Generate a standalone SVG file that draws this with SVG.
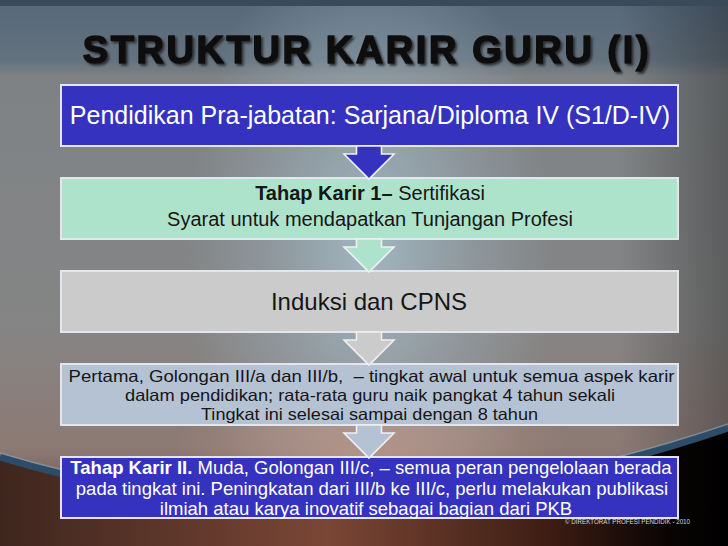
<svg xmlns="http://www.w3.org/2000/svg" width="728" height="546" viewBox="0 0 728 546">
<defs>
<linearGradient id="bgv" x1="0" y1="0" x2="0" y2="1">
<stop offset="0" stop-color="#56687a"/>
<stop offset="0.11" stop-color="#64727e"/>
<stop offset="0.14" stop-color="#7e8285"/>
<stop offset="0.6" stop-color="#858585"/>
<stop offset="0.82" stop-color="#8c7a74"/>
<stop offset="1" stop-color="#5a3a2e"/>
</linearGradient>
<radialGradient id="glow" cx="370" cy="250" r="260" gradientUnits="userSpaceOnUse" gradientTransform="translate(370 250) scale(0.7 1.3) translate(-370 -250)">
<stop offset="0" stop-color="#a9c3d0" stop-opacity="0.8"/>
<stop offset="0.6" stop-color="#a0b4c0" stop-opacity="0.35"/>
<stop offset="1" stop-color="#a0b4c0" stop-opacity="0"/>
</radialGradient>
<radialGradient id="warm" cx="370" cy="470" r="200" gradientUnits="userSpaceOnUse">
<stop offset="0" stop-color="#c09484" stop-opacity="0.75"/>
<stop offset="1" stop-color="#c09484" stop-opacity="0"/>
</radialGradient>
<linearGradient id="floor" x1="0" y1="0" x2="1" y2="0">
<stop offset="0" stop-color="#3e261e"/>
<stop offset="0.45" stop-color="#7a4636"/>
<stop offset="0.75" stop-color="#3e1e14"/>
<stop offset="0.92" stop-color="#080403"/>
<stop offset="1" stop-color="#000"/>
</linearGradient>
<linearGradient id="rightdark" x1="0" y1="0" x2="1" y2="0">
<stop offset="0.85" stop-color="#000" stop-opacity="0"/>
<stop offset="1" stop-color="#000" stop-opacity="0.3"/>
</linearGradient>
<filter id="shadow" x="-5%" y="-20%" width="110%" height="150%">
<feDropShadow dx="2" dy="2" stdDeviation="0.8" flood-color="#2a2a2a" flood-opacity="0.9"/>
</filter>
</defs>
<style>
.box{stroke:#e4e6ee;stroke-width:2}
.blue{fill:#3532bf}
.mint{fill:#aee3cb}
.gray{fill:#cbcbcb}
.slate{fill:#b5c2d3}
.arrow{stroke:#f0f0f4;stroke-width:1.6;stroke-linejoin:miter}
.t{font-family:"Liberation Sans",Arial,sans-serif;text-anchor:middle}
.dark{fill:#161616}
.light{fill:#ffffff}
.b{font-weight:bold}
.title{font-family:"Liberation Sans",Arial,sans-serif;font-weight:bold;font-size:38px;letter-spacing:2.6px;text-anchor:middle;stroke-linejoin:round}
</style>
<!-- background -->
<rect x="0" y="0" width="728" height="546" fill="url(#bgv)"/>
<rect x="0" y="0" width="728" height="546" fill="url(#glow)"/>
<rect x="0" y="0" width="728" height="546" fill="url(#rightdark)"/>
<rect x="0" y="0" width="728" height="6" fill="#3a4a58"/>
<rect x="0" y="380" width="728" height="166" fill="url(#warm)"/>
<path d="M0,457 Q340,560 728,428 L728,546 L0,546 Z" fill="url(#floor)"/>
<path d="M0,457 Q340,560 728,428" fill="none" stroke="#2c4c68" stroke-width="7"/>
<path d="M0,453 Q340,556 728,424" fill="none" stroke="#8aa6bb" stroke-width="1.5" opacity="0.6"/>
<!-- title -->
<text class="title" x="367" y="63" fill="#111" stroke="#111" stroke-width="1.6" filter="url(#shadow)">STRUKTUR KARIR GURU (I)</text>

<g id="node1">
<rect class="box blue" x="61" y="85" width="617" height="61"/>
<text class="t light" x="370" y="124" font-size="25">Pendidikan Pra-jabatan: Sarjana/Diploma IV (S1/D-IV)</text>
</g>
<g id="node2">
<rect class="box mint" x="61" y="178" width="617" height="61"/>
<text class="t dark" x="370" y="200" font-size="20"><tspan class="b">Tahap Karir 1–</tspan> Sertifikasi</text>
<text class="t dark" x="370" y="226" font-size="20">Syarat untuk mendapatkan Tunjangan Profesi</text>
</g>
<g id="node3">
<rect class="box gray" x="61" y="271" width="617" height="61"/>
<text class="t dark" x="369" y="310" font-size="24">Induksi dan CPNS</text>
</g>
<g id="node4">
<rect class="box slate" x="61" y="364" width="617" height="61"/>
<text class="t dark" x="371.5" y="382" font-size="16.5" textLength="606" lengthAdjust="spacingAndGlyphs" xml:space="preserve">Pertama, Golongan III/a dan III/b,  – tingkat awal untuk semua aspek karir</text>
<text class="t dark" x="370" y="401" font-size="16.5" textLength="490" lengthAdjust="spacingAndGlyphs">dalam pendidikan; rata-rata guru naik pangkat 4 tahun sekali</text>
<text class="t dark" x="369.5" y="420" font-size="16.5" textLength="337" lengthAdjust="spacingAndGlyphs">Tingkat ini selesai sampai dengan 8 tahun</text>
</g>
<g id="node5">
<rect class="box blue" x="61" y="457" width="617" height="61"/>
<text class="t light" x="371" y="474" font-size="18.5"><tspan class="b">Tahap Karir II.</tspan> Muda, Golongan III/c, – semua peran pengelolaan berada</text>
<text class="t light" x="372" y="495" font-size="18.5">pada tingkat ini. Peningkatan dari III/b ke III/c, perlu melakukan publikasi</text>
<text class="t light" x="366" y="515" font-size="18.5">ilmiah atau karya inovatif sebagai bagian dari PKB</text>
</g>

<g id="connectors">
<polygon class="arrow blue" points="356.5,146 381.5,146 381.5,154 394,154 369,179 344,154 356.5,154"/>
<polygon class="arrow mint" points="356.5,239 381.5,239 381.5,247 394,247 369,272 344,247 356.5,247"/>
<polygon class="arrow gray" points="356.5,332 381.5,332 381.5,340 394,340 369,365 344,340 356.5,340"/>
<polygon class="arrow slate" points="356.5,425 381.5,425 381.5,433 394,433 369,458 344,433 356.5,433"/>
</g>

<text x="565" y="524" font-family="'Liberation Sans Narrow','Liberation Sans',sans-serif" font-size="8" fill="#d8d8d8" textLength="125" lengthAdjust="spacingAndGlyphs">© DIREKTORAT PROFESI PENDIDIK - 2010</text>
</svg>
